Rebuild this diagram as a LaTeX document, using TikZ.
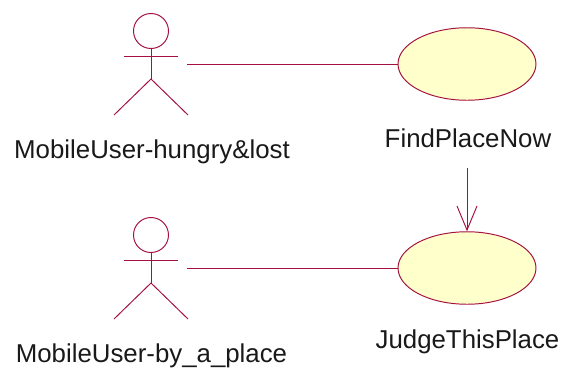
\documentclass[tikz,border=0pt]{standalone}
\usepackage{fontspec}
\setmainfont{Liberation Sans}
\usetikzlibrary{arrows.meta,shapes.geometric}
\definecolor{umlline}{HTML}{A5103F}
\definecolor{umlfill}{HTML}{FFFFCC}
\begin{document}
\begin{tikzpicture}[x=0.02cm,y=-0.02cm,line width=0.55pt,
  usecase/.style={shape=ellipse,draw=umlline,fill=umlfill,minimum width=2.76cm,minimum height=1.45cm,inner sep=0pt},
  head/.style={shape=circle,draw=umlline,minimum size=0.7cm,inner sep=0pt},
  limb/.style={draw=umlline},
  umltext/.style={font=\fontsize{14.7}{17}\selectfont,text=black!90,inner sep=0pt}]
\def\ax{151};
\def\ex{467};
\def\dy{204};
\useasboundingbox (0,0) rectangle (562,369);

\node[usecase] (find) at (\ex,64) {};
\node[usecase] (judge) at (\ex,64+\dy) {};
\node[umltext] (findL) at (468,138) {FindPlaceNow};
\node[umltext] (judgeL) at (467.5,342) {JudgeThisPlace};

\node[head] (H1) at (\ax,31) {};
\coordinate (N1) at (\ax,79);
\coordinate (AL1) at (\ax-27,56);
\coordinate (AR1) at (\ax+27,56);
\coordinate (FL1) at (\ax-37,115);
\coordinate (FR1) at (\ax+37,115);
\coordinate (P1) at (187,64);
\draw[limb] (H1.south) -- (N1);
\draw[limb] (AL1) -- (AR1);
\draw[limb] (FL1) -- (N1) -- (FR1);
\node[umltext] (hungry) at (152,152) {MobileUser-hungry\&lost};

\node[head] (H2) at (\ax,31+\dy) {};
\coordinate (N2) at (\ax,79+\dy);
\coordinate (AL2) at (\ax-27,56+\dy);
\coordinate (AR2) at (\ax+27,56+\dy);
\coordinate (FL2) at (\ax-37,115+\dy);
\coordinate (FR2) at (\ax+37,115+\dy);
\coordinate (P2) at (187,64+\dy);
\draw[limb] (H2.south) -- (N2);
\draw[limb] (AL2) -- (AR2);
\draw[limb] (FL2) -- (N2) -- (FR2);
\node[umltext] (place) at (151.5,356) {MobileUser-by\_a\_place};

\draw[limb] (P1) -- (find.west);
\draw[limb] (P2) -- (judge.west);
\coordinate (T) at (\ex,168);
\draw[limb,-{Straight Barb[length=0.48cm,width=0.4cm,line width=0.55pt]}] (T) -- (judge.north);
\end{tikzpicture}
\end{document}
